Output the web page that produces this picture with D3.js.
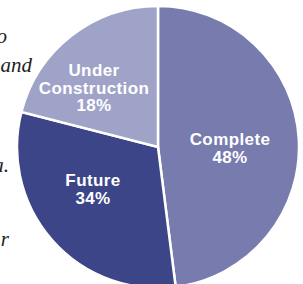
<!DOCTYPE html>
<html>
<head>
<meta charset="utf-8">
<script src="https://cdn.jsdelivr.net/npm/d3@7/dist/d3.min.js"></script>
<style>
  html, body { margin: 0; padding: 0; background: #fff; overflow: hidden; }
  svg { display: block; }
</style>
</head>
<body>
<svg id="chart" width="303" height="284"></svg>
<script>
// ---- data ----
const categories = ["Complete", "Future", "Under Construction"];
// slice sizes as drawn in the picture (share of the circle, %)
const drawnShares = [48, 31, 21];
// percentage labels printed on the slices
const labelValues = ["48%", "34%", "18%"];
// label text lines for each slice
const labelLines = [["Complete"], ["Future"], ["Under", "Construction"]];
// fragments of the cropped italic side text
const sideText = ["o", "and", "a.", "r"];

// ---- layout ----
const W = 303, H = 284;
const cx = 158, cy = 147, R = 141;
const colors = ["#777bae", "#3d4589", "#a0a3c8"];
const labelCenters = [[230, 145], [93, 186], [94, 76]];
const lineGap = 17.5;
const sidePos = [[7, 43], [32, 72], [9, 172], [9, 246]];

const svg = d3.select("#chart");

const pie = d3.pie().sort(null).value(d => d.v).startAngle(0).endAngle(2 * Math.PI);
const arc = d3.arc().innerRadius(0).outerRadius(R);

const data = categories.map((c, i) => ({ c, v: drawnShares[i], i }));
const arcs = pie(data);

const g = svg.append("g").attr("transform", `translate(${cx},${cy})`);
g.selectAll("path")
  .data(arcs)
  .join("path")
  .attr("d", arc)
  .attr("fill", d => colors[d.data.i])
  .attr("stroke", "#fff")
  .attr("stroke-width", 2.5)
  .attr("stroke-linejoin", "miter");

// slice labels
arcs.forEach(a => {
  const i = a.data.i;
  const lines = labelLines[i].concat([labelValues[i]]);
  const [lx, ly] = labelCenters[i];
  const t = svg.append("text")
    .attr("text-anchor", "middle")
    .attr("font-family", "'Liberation Sans', Arial, Helvetica, sans-serif")
    .attr("font-weight", "bold")
    .attr("font-size", 17)
    .attr("letter-spacing", 0.4)
    .attr("fill", "#fff");
  lines.forEach((ln, k) => {
    t.append("tspan").attr("x", lx).attr("y", ly + k * lineGap).text(ln);
  });
});

// cropped side text
svg.selectAll("text.side")
  .data(sideText)
  .join("text")
  .attr("class", "side")
  .attr("x", (d, i) => sidePos[i][0])
  .attr("y", (d, i) => sidePos[i][1])
  .attr("text-anchor", "end")
  .attr("font-family", "'Liberation Serif', 'Times New Roman', serif")
  .attr("font-style", "italic")
  .attr("font-size", 21)
  .attr("fill", "#231f20")
  .text(d => d);
</script>
</body>
</html>
